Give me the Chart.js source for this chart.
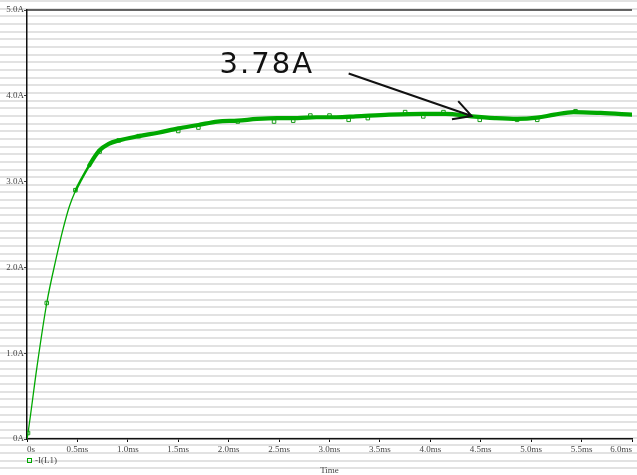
<!DOCTYPE html>
<html>
<head>
<meta charset="utf-8">
<script src="https://cdn.jsdelivr.net/npm/chart.js@4"></script>
<style>
  html, body { margin: 0; padding: 0; background: #fff; }
  #wrap { width: 637px; height: 475px; }
</style>
</head>
<body>
<div id="wrap"><canvas id="current-chart"></canvas></div>
<script>
// Inductor current (time in ms, current in A)
const timeMs = [0, 0.01, 0.1, 0.196, 0.29, 0.356, 0.42, 0.48, 0.536, 0.618, 0.716, 0.81, 0.91, 1.11,
  1.30, 1.50, 1.70, 1.89, 2.09, 2.28, 2.48, 2.68, 2.87, 3.07, 3.26, 3.59, 3.92, 4.15, 4.41,
  4.64, 4.86, 5.06, 5.23, 5.42, 5.69, 6.0];
const currentA = [0, 0.07, 0.85, 1.585, 2.11, 2.44, 2.71, 2.89, 3.02, 3.19, 3.36, 3.44, 3.48, 3.53,
  3.57, 3.62, 3.66, 3.70, 3.71, 3.73, 3.74, 3.74, 3.75, 3.75, 3.76, 3.78, 3.79, 3.79, 3.76,
  3.74, 3.73, 3.745, 3.78, 3.81, 3.80, 3.78];

// square markers as they show on the trace
const markerTimeMs = [0.01, 0.196, 0.48, 0.72, 0.91, 1.11, 1.50, 1.70, 2.09, 2.45, 2.64, 2.81,
  3.0, 3.19, 3.38, 3.75, 3.93, 4.13, 4.49, 4.86, 5.06, 5.44];
const markerCurrentA = [0.07, 1.585, 2.90, 3.35, 3.48, 3.53, 3.59, 3.63, 3.70, 3.70, 3.71, 3.77,
  3.77, 3.72, 3.74, 3.81, 3.76, 3.81, 3.72, 3.72, 3.72, 3.82];

const xTickLabels = ['0s', '0.5ms', '1.0ms', '1.5ms', '2.0ms', '2.5ms', '3.0ms', '3.5ms', '4.0ms',
  '4.5ms', '5.0ms', '5.5ms', '6.0ms'];
const yTickLabels = ['0A', '1.0A', '2.0A', '3.0A', '4.0A', '5.0A'];

const traceLabel = '-I(L1)';
const axisTitle = 'Time';

// callout
const calloutText = '3.78A';
const calloutTextAt = { x: 1.91, y: 4.27 };
const calloutTail = { x: 3.19, y: 4.26 };
const calloutTip = { x: 4.41, y: 3.765 };

const green = '#00a800';
const labelFont = '9px "Liberation Serif", serif';

// grey scan stripes behind everything
const stripes = {
  id: 'stripes',
  beforeDraw(chart) {
    const ctx = chart.ctx;
    ctx.save();
    ctx.fillStyle = '#fff';
    ctx.fillRect(0, 0, chart.width, chart.height);
    ctx.fillStyle = '#e2e2e2';
    for (let y = 0; y < chart.height; y += 7.66) {
      ctx.fillRect(0, Math.round(y), chart.width, 2);
    }
    ctx.restore();
  }
};

const extras = {
  id: 'extras',
  afterDraw(chart) {
    const ctx = chart.ctx;
    const area = chart.chartArea;
    const xs = chart.scales.x, ys = chart.scales.y;
    ctx.save();

    // top frame line
    ctx.strokeStyle = '#333';
    ctx.lineWidth = 1.5;
    ctx.beginPath();
    ctx.moveTo(area.left, area.top);
    ctx.lineTo(area.right, area.top);
    ctx.stroke();

    // legend
    ctx.strokeStyle = green;
    ctx.lineWidth = 1;
    ctx.strokeRect(27.5, 458.5, 4, 4);
    ctx.fillStyle = '#444';
    ctx.font = labelFont;
    ctx.textBaseline = 'middle';
    ctx.textAlign = 'left';
    ctx.fillText(traceLabel, 35, 461);

    // axis title
    ctx.textAlign = 'center';
    ctx.fillText(axisTitle, (area.left + area.right) / 2, 471);

    // callout text
    ctx.fillStyle = '#111';
    ctx.font = '29px "DejaVu Sans", sans-serif';
    ctx.letterSpacing = '2px';
    ctx.textAlign = 'left';
    ctx.textBaseline = 'alphabetic';
    ctx.fillText(calloutText, xs.getPixelForValue(calloutTextAt.x), ys.getPixelForValue(calloutTextAt.y));
    ctx.letterSpacing = '0px';

    // callout arrow
    const x1 = xs.getPixelForValue(calloutTail.x), y1 = ys.getPixelForValue(calloutTail.y);
    const x2 = xs.getPixelForValue(calloutTip.x), y2 = ys.getPixelForValue(calloutTip.y);
    const ang = Math.atan2(y2 - y1, x2 - x1);
    ctx.strokeStyle = '#111';
    ctx.lineWidth = 2;
    ctx.beginPath();
    ctx.moveTo(x1, y1);
    ctx.lineTo(x2, y2);
    ctx.moveTo(x2 - 20 * Math.cos(ang - 0.5), y2 - 20 * Math.sin(ang - 0.5));
    ctx.lineTo(x2, y2);
    ctx.lineTo(x2 - 20 * Math.cos(ang + 0.5), y2 - 20 * Math.sin(ang + 0.5));
    ctx.stroke();

    ctx.restore();
  }
};

const ctx = document.getElementById('current-chart').getContext('2d');
new Chart(ctx, {
  type: 'scatter',
  data: {
    datasets: [
      {
        label: traceLabel,
        data: timeMs.map((t, i) => ({ x: t, y: currentA[i] })),
        showLine: true,
        cubicInterpolationMode: 'monotone',
        borderColor: green,
        borderWidth: 4,
        borderCapStyle: 'round',
        borderJoinStyle: 'round',
        pointRadius: 0,
        segment: {
          borderWidth: c => c.p0.parsed.x < 0.45 ? 1.3 : (c.p0.parsed.x < 0.6 ? 2.5 : 4.2)
        }
      },
      {
        label: 'markers',
        data: markerTimeMs.map((t, i) => ({ x: t, y: markerCurrentA[i] })),
        showLine: false,
        pointStyle: 'rect',
        pointRadius: 2.5,
        borderWidth: 1,
        borderColor: '#1a9a1a',
        backgroundColor: 'rgba(0,0,0,0)'
      }
    ]
  },
  options: {
    responsive: true,
    maintainAspectRatio: false,
    animation: false,
    layout: { padding: { top: 10, left: 0, right: 0, bottom: 0 } },
    plugins: {
      legend: { display: false },
      tooltip: { enabled: false }
    },
    scales: {
      x: {
        type: 'linear',
        min: 0,
        max: 6,
        afterFit: s => { s.height = 36; s.paddingLeft = 0; s.paddingRight = 0; },
        border: { display: true, color: '#111', width: 1.5 },
        grid: { drawOnChartArea: false, tickLength: 3, color: '#111', tickWidth: 1 },
        ticks: {
          stepSize: 0.5,
          autoSkip: false,
          maxRotation: 0,
          align: 'inner',
          padding: 2,
          color: '#444',
          font: { family: '"Liberation Serif", serif', size: 9 },
          callback: (v, i) => xTickLabels[i]
        }
      },
      y: {
        min: 0,
        max: 5,
        afterFit: s => { s.width = 27; },
        border: { display: true, color: '#111', width: 1.5 },
        grid: { drawOnChartArea: false, tickLength: 3, color: '#444', tickWidth: 1 },
        ticks: {
          stepSize: 1,
          padding: 0,
          color: '#444',
          font: { family: '"Liberation Serif", serif', size: 9 },
          callback: (v, i) => yTickLabels[i]
        }
      }
    }
  },
  plugins: [stripes, extras]
});
</script>
</body>
</html>
